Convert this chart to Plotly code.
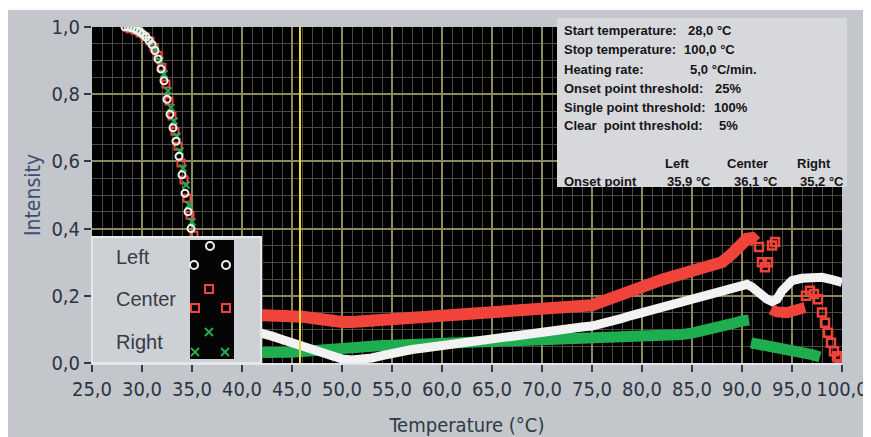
import plotly.graph_objects as go

# ---------------- data ----------------
# steep melting part (sparse markers)
left_desc_T = [28.3, 28.6, 28.9, 29.2, 29.5, 29.8, 30.1, 30.4, 30.7, 31.0, 31.3, 31.6, 31.9, 32.2, 32.5,
               32.8, 33.1, 33.4, 33.7, 34.0, 34.3, 34.6, 34.9, 35.3, 35.8, 36.4, 37.1, 38.0, 39.2, 40.6]
left_desc_I = [1.0, 1.0, 0.998, 0.995, 0.99, 0.985, 0.978, 0.97, 0.96, 0.948, 0.93, 0.905, 0.875, 0.84, 0.785,
               0.74, 0.70, 0.66, 0.615, 0.56, 0.505, 0.45, 0.40, 0.34, 0.28, 0.22, 0.17, 0.13, 0.105, 0.092]
center_desc_T = [28.8, 29.3, 29.8, 30.3, 30.8, 31.2, 31.6, 32.0, 32.4, 32.7, 33.0, 33.3, 33.6, 33.9, 34.2,
                 34.5, 34.8, 35.2, 35.7, 36.3, 37.0, 38.0, 39.3, 40.8]
center_desc_I = [0.995, 0.99, 0.982, 0.972, 0.958, 0.94, 0.915, 0.88, 0.83, 0.78, 0.735, 0.69, 0.645, 0.595,
                 0.545, 0.49, 0.44, 0.38, 0.31, 0.25, 0.2, 0.165, 0.15, 0.145]
right_desc_T = [29.0, 29.6, 30.2, 30.8, 31.3, 31.8, 32.2, 32.6, 32.9, 33.2, 33.5, 33.8, 34.1, 34.4, 34.7,
                35.0, 35.4, 35.9, 36.5, 37.3, 38.4, 39.7, 41.0]
right_desc_I = [0.995, 0.988, 0.975, 0.958, 0.935, 0.9, 0.86, 0.81, 0.76, 0.72, 0.675, 0.63, 0.58, 0.53,
                0.47, 0.42, 0.36, 0.29, 0.22, 0.15, 0.09, 0.05, 0.033]

# dense "band" part
left_band_T = [41.5, 42, 43, 44, 45, 46, 47, 48, 49, 50, 51, 52, 53, 54, 55, 56, 57, 58, 59, 60,
               61, 62, 63, 64, 65, 66, 67, 68, 69, 70, 71, 72, 73, 74, 75, 76, 77, 78, 79, 80,
               81, 82, 83, 84, 85, 86, 87, 88, 89, 90, 90.5, 91, 91.5, 92, 92.5, 93, 93.5, 94,
               94.5, 95, 96, 97, 98, 99, 100]
left_band_I = [0.092, 0.089, 0.08, 0.07, 0.06, 0.05, 0.04, 0.028, 0.018, 0.012, 0.009, 0.01, 0.015,
               0.022, 0.03, 0.036, 0.04, 0.044, 0.048, 0.053, 0.058, 0.063, 0.068, 0.073, 0.077,
               0.08, 0.083, 0.086, 0.089, 0.093, 0.097, 0.101, 0.104, 0.107, 0.11, 0.116, 0.124,
               0.133, 0.142, 0.15, 0.157, 0.163, 0.17, 0.178, 0.186, 0.193, 0.2, 0.208, 0.217,
               0.228, 0.234, 0.226, 0.212, 0.2, 0.19, 0.183, 0.19, 0.215, 0.235, 0.245, 0.252,
               0.256, 0.255, 0.248, 0.24]

center_band_T = [41.5, 42, 43, 44, 45, 46, 47, 48, 49, 50, 51, 52, 53, 54, 55, 56, 57, 58, 59, 60,
                 61, 62, 63, 64, 65, 66, 67, 68, 69, 70, 71, 72, 73, 74, 75, 76, 77, 78, 79, 80,
                 81, 82, 83, 84, 85, 86, 87, 88, 89, 90, 90.5, 91, 91.4]
center_band_I = [0.143, 0.143, 0.143, 0.142, 0.14, 0.138, 0.134, 0.128, 0.124, 0.122, 0.122, 0.124,
                 0.128, 0.131, 0.133, 0.134, 0.135, 0.136, 0.137, 0.137, 0.138, 0.14, 0.143, 0.146,
                 0.148, 0.15, 0.152, 0.154, 0.156, 0.158, 0.161, 0.164, 0.166, 0.168, 0.172, 0.183,
                 0.195, 0.205, 0.215, 0.225, 0.237, 0.248, 0.257, 0.265, 0.272, 0.278, 0.285, 0.3,
                 0.325, 0.355, 0.37, 0.372, 0.36]
center_band2_T = [92.9, 93.5, 94.5, 95.5, 96.3]
center_band2_I = [0.16, 0.152, 0.15, 0.155, 0.165]
center_tail_T = [91.7, 92.0, 92.3, 92.6, 93.0, 93.3, 96.4, 96.8, 97.2, 97.6, 98.0, 98.3, 98.6, 98.9,
                 99.2, 99.5, 99.7]
center_tail_I = [0.345, 0.3, 0.285, 0.3, 0.35, 0.36, 0.2, 0.215, 0.205, 0.19, 0.15, 0.12, 0.09, 0.06,
                 0.035, 0.02, 0.015]

right_band_T = [41.5, 42, 43, 44, 45, 46, 47, 48, 49, 50, 51, 52, 53, 54, 55, 56, 57, 58, 59, 60,
                61, 62, 63, 64, 65, 66, 67, 68, 69, 70, 71, 72, 73, 74, 75, 76, 77, 78, 79, 80,
                81, 82, 83, 84, 85, 86, 87, 88, 89, 90, 90.7]
right_band_I = [0.031, 0.03, 0.03, 0.031, 0.032, 0.034, 0.037, 0.04, 0.044, 0.047, 0.049, 0.05, 0.051,
                0.052, 0.053, 0.054, 0.055, 0.056, 0.057, 0.058, 0.059, 0.06, 0.062, 0.063, 0.064,
                0.066, 0.067, 0.068, 0.068, 0.068, 0.068, 0.068, 0.068, 0.068, 0.068, 0.069, 0.07,
                0.071, 0.073, 0.075, 0.077, 0.079, 0.082, 0.085, 0.089, 0.094, 0.1, 0.108, 0.117,
                0.125, 0.128]
right_band2_T = [90.9, 92, 93, 94, 95, 96, 97, 97.8]
right_band2_I = [0.06, 0.055, 0.05, 0.045, 0.04, 0.033, 0.025, 0.018]

cursor_T = 45.8

x_ticks = [25, 30, 35, 40, 45, 50, 55, 60, 65, 70, 75, 80, 85, 90, 95, 100]
y_ticks = [0.0, 0.2, 0.4, 0.6, 0.8, 1.0]

series_names = ["Left", "Center", "Right"]
info_lines = ["Start temperature:", "Stop temperature:", "Heating rate:",
              "Onset point threshold:", "Single point threshold:", "Clear  point threshold:"]
info_values = ["28,0 °C", "100,0 °C", "5,0 °C/min.", "25%", "100%", "5%"]
onset_values = ["35,9 °C", "36,1 °C", "35,2 °C"]

# ---------------- colours ----------------
WHITE = "#f2f2f2"
RED = "#f0443a"
GREEN = "#1fae4f"
PANEL = "#c3c6cb"

# page body has an 8px margin, so the figure starts at (8, 8) in the window
OFF = 8
WIN_W, WIN_H = 871, 437
W, H = WIN_W - OFF, WIN_H - OFF
PL, PR, PT, PB = 92, 842, 27, 363          # plot area in window pixels
L, R, T, B = PL - OFF, WIN_W - PR, PT - OFF, WIN_H - PB
PW, PH = PR - PL, PB - PT


def px(x):
    return (x - PL) / PW


def py(y):
    return (PB - y) / PH


fig = go.Figure()

# bands
fig.add_trace(go.Scatter(x=right_band_T, y=right_band_I, mode="lines",
                         line=dict(color=GREEN, width=11), hoverinfo="skip"))
fig.add_trace(go.Scatter(x=right_band2_T, y=right_band2_I, mode="lines",
                         line=dict(color=GREEN, width=11), hoverinfo="skip"))
fig.add_trace(go.Scatter(x=center_band_T, y=center_band_I, mode="lines",
                         line=dict(color=RED, width=12), hoverinfo="skip"))
fig.add_trace(go.Scatter(x=center_band2_T, y=center_band2_I, mode="lines",
                         line=dict(color=RED, width=11), hoverinfo="skip"))
fig.add_trace(go.Scatter(x=center_tail_T, y=center_tail_I, mode="markers",
                         marker=dict(symbol="square-open", color=RED, size=8, line=dict(width=2.5)),
                         hoverinfo="skip"))
fig.add_trace(go.Scatter(x=left_band_T, y=left_band_I, mode="lines",
                         line=dict(color=WHITE, width=9), hoverinfo="skip"))

# steep part
fig.add_trace(go.Scatter(x=center_desc_T, y=center_desc_I, mode="markers",
                         marker=dict(symbol="square-open", color=RED, size=7, line=dict(width=2)),
                         hoverinfo="skip"))
fig.add_trace(go.Scatter(x=right_desc_T, y=right_desc_I, mode="markers",
                         marker=dict(symbol="x-thin-open", color=GREEN, size=7, line=dict(width=2, color=GREEN)),
                         hoverinfo="skip"))
fig.add_trace(go.Scatter(x=left_desc_T, y=left_desc_I, mode="markers",
                         marker=dict(symbol="circle-open", color=WHITE, size=7, line=dict(width=2)),
                         hoverinfo="skip"))

shapes = []
# thin white strip at top (window y 8..10)
shapes.append(dict(type="rect", xref="paper", yref="paper", x0=px(0), x1=px(WIN_W), y0=py(0), y1=py(10),
                   fillcolor="#fbfbfb", line=dict(width=0), layer="below"))
# cursor line
shapes.append(dict(type="line", xref="x", yref="paper", x0=cursor_T, x1=cursor_T, y0=0, y1=1,
                   line=dict(color="#e6d44c", width=2), layer="above"))
# info box
shapes.append(dict(type="rect", xref="paper", yref="paper", x0=px(557), x1=px(847), y0=py(187), y1=py(18),
                   fillcolor="#d7d8dc", line=dict(width=0), layer="above"))
# legend box
shapes.append(dict(type="rect", xref="paper", yref="paper", x0=px(92), x1=px(261), y0=py(363), y1=py(237),
                   fillcolor="#cdd0d5", line=dict(color="#e6e7ea", width=2), layer="above"))
shapes.append(dict(type="rect", xref="paper", yref="paper", x0=px(190), x1=px(234), y0=py(359), y1=py(240),
                   fillcolor="#050505", line=dict(width=0), layer="above"))
# legend marker samples
for (cx, cy) in [(210, 246), (194, 265), (226, 265)]:
    shapes.append(dict(type="circle", xref="paper", yref="paper", x0=px(cx - 4), x1=px(cx + 4),
                       y0=py(cy + 4), y1=py(cy - 4), line=dict(color=WHITE, width=2), layer="above"))
for (cx, cy) in [(209, 289), (195, 308), (226, 308)]:
    shapes.append(dict(type="rect", xref="paper", yref="paper", x0=px(cx - 4), x1=px(cx + 4),
                       y0=py(cy + 4), y1=py(cy - 4), line=dict(color=RED, width=2), layer="above"))
for (cx, cy) in [(209, 332), (195, 352), (225, 352)]:
    path = (f"M {px(cx-4)},{py(cy-4)} L {px(cx+4)},{py(cy+4)} "
            f"M {px(cx-4)},{py(cy+4)} L {px(cx+4)},{py(cy-4)}")
    shapes.append(dict(type="path", xref="paper", yref="paper", path=path,
                       line=dict(color=GREEN, width=2), layer="above"))

annotations = []
legend_y = [257, 299, 342]
for name, yy in zip(series_names, legend_y):
    annotations.append(dict(x=px(114), y=py(yy), xref="paper", yref="paper", text=name, showarrow=False,
                            xanchor="left", yanchor="middle",
                            font=dict(family="Liberation Sans, Arial", size=20, color="#363b44")))

INFO_FONT = dict(family="Liberation Sans, Arial", size=13, color="#151515")
info_y = [31, 50, 69, 88, 107, 126]
value_x = [686, 682, 688, 713, 712, 717]
for lab, val, yy, vx in zip(info_lines, info_values, info_y, value_x):
    annotations.append(dict(x=px(562), y=py(yy), xref="paper", yref="paper", text=f"<b>{lab}</b>",
                            showarrow=False, xanchor="left", yanchor="middle", font=INFO_FONT))
    annotations.append(dict(x=px(vx), y=py(yy), xref="paper", yref="paper", text=f"<b>{val}</b>",
                            showarrow=False, xanchor="left", yanchor="middle", font=INFO_FONT))
for name, hx in zip(series_names, [663, 725, 795]):
    annotations.append(dict(x=px(hx), y=py(163), xref="paper", yref="paper", text=f"<b>{name}</b>",
                            showarrow=False, xanchor="left", yanchor="middle", font=INFO_FONT))
annotations.append(dict(x=px(562), y=py(181), xref="paper", yref="paper", text="<b>Onset point</b>",
                        showarrow=False, xanchor="left", yanchor="middle", font=INFO_FONT))
for val, vx in zip(onset_values, [665, 732, 798]):
    annotations.append(dict(x=px(vx), y=py(181), xref="paper", yref="paper", text=f"<b>{val}</b>",
                            showarrow=False, xanchor="left", yanchor="middle", font=INFO_FONT))

NARROW = "DejaVu Sans Condensed, Liberation Sans Narrow, Liberation Sans, Arial"
TICK_FONT = dict(family=NARROW, size=20, color="#2a3544")

fig.update_layout(
    width=W, height=H,
    margin=dict(l=L, r=R, t=T, b=B, pad=0),
    paper_bgcolor=PANEL,
    plot_bgcolor="#000000",
    showlegend=False,
    separators=",.",
    shapes=shapes,
    annotations=annotations,
    xaxis=dict(range=[25, 100], tickvals=x_ticks, tickformat=".1f", ticks="outside", ticklen=7,
               tickwidth=2, tickcolor="#2f3a49", tickfont=TICK_FONT, tickangle=0, automargin=False,
               showgrid=True, gridcolor="#8c8a5c", gridwidth=1.5, zeroline=False,
               showline=True, linecolor="#e2e3e6", linewidth=2,
               minor=dict(dtick=1, showgrid=True, gridcolor="#4a4a40", gridwidth=1, ticks=""),
               title=dict(text="Temperature (°C)", standoff=19,
                          font=dict(family=NARROW, size=20, color="#2f3a49"))),
    yaxis=dict(range=[0, 1], tickvals=y_ticks, tickformat=".1f", ticks="outside", ticklen=7,
               tickwidth=2, tickcolor="#2f3a49", tickfont=TICK_FONT, automargin=False,
               showgrid=True, gridcolor="#8c8a5c", gridwidth=1.5, zeroline=False,
               minor=dict(dtick=0.05, showgrid=True, gridcolor="#4a4a40", gridwidth=1, ticks=""),
               title=dict(text="Intensity", standoff=5,
                          font=dict(family=NARROW, size=21, color="#3d4d73"))),
)

fig.write_html("out.html")
